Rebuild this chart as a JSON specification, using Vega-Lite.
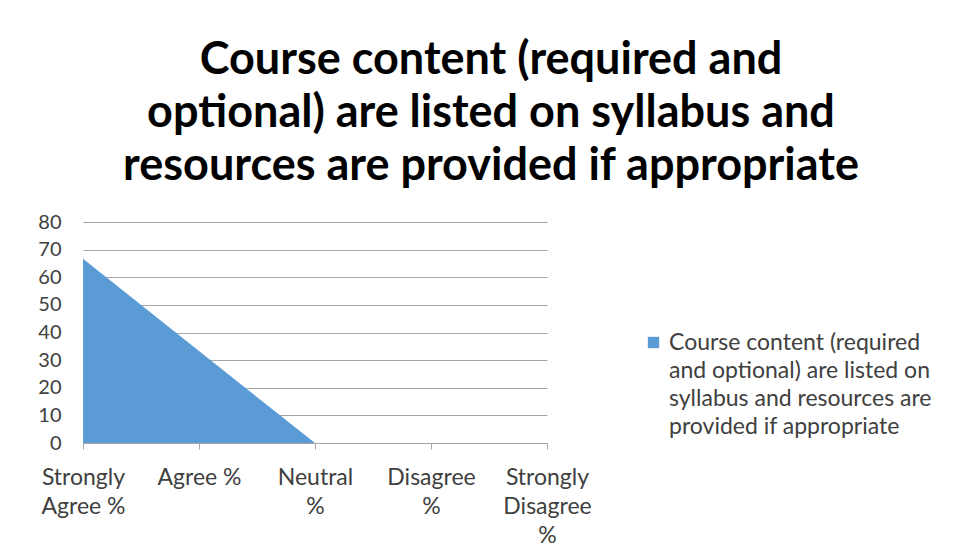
{
  "$schema": "https://vega.github.io/schema/vega-lite/v6.json",
  "width": 464,
  "height": 221,
  "autosize": {"type": "none"},
  "padding": {"left": 83, "top": 222, "right": 413, "bottom": 115},
  "background": "white",
  "title": {
    "text": ["Course content (required and", "optional) are listed on syllabus and", "resources are provided if appropriate"],
    "font": "Lato",
    "fontSize": 45,
    "fontWeight": "bold",
    "color": "#000000",
    "lineHeight": 53,
    "anchor": "middle",
    "dx": 176,
    "offset": 23
  },
  "data": {
    "values": [
      {"response": "Strongly Agree %", "value": 66.7, "series": "Course content (required and optional) are listed on syllabus and resources are provided if appropriate"},
      {"response": "Agree %", "value": 33.3, "series": "Course content (required and optional) are listed on syllabus and resources are provided if appropriate"},
      {"response": "Neutral %", "value": 0, "series": "Course content (required and optional) are listed on syllabus and resources are provided if appropriate"},
      {"response": "Disagree %", "value": 0, "series": "Course content (required and optional) are listed on syllabus and resources are provided if appropriate"},
      {"response": "Strongly Disagree %", "value": 0, "series": "Course content (required and optional) are listed on syllabus and resources are provided if appropriate"}
    ]
  },
  "mark": {"type": "area", "opacity": 1},
  "encoding": {
    "x": {
      "field": "response",
      "type": "ordinal",
      "sort": null,
      "scale": {"type": "point", "padding": 0},
      "axis": {
        "title": null,
        "labelAngle": 0,
        "labelFont": "Lato",
        "labelFontSize": 23,
        "labelColor": "#404040",
        "labelPadding": 17,
        "labelLineHeight": 29,
        "labelLimit": 0,
        "labelOverlap": false,
        "labelExpr": "datum.label == 'Strongly Agree %' ? ['Strongly', 'Agree %'] : datum.label == 'Neutral %' ? ['Neutral', '%'] : datum.label == 'Disagree %' ? ['Disagree', '%'] : datum.label == 'Strongly Disagree %' ? ['Strongly', 'Disagree', '%'] : datum.label",
        "domainColor": "#a6a6a6",
        "tickColor": "#a6a6a6",
        "tickSize": 6,
        "grid": false
      }
    },
    "y": {
      "field": "value",
      "type": "quantitative",
      "scale": {"domain": [0, 80], "nice": false},
      "axis": {
        "title": null,
        "values": [0, 10, 20, 30, 40, 50, 60, 70, 80],
        "labelOverlap": false,
        "labelFont": "Lato",
        "labelFontSize": 20,
        "labelColor": "#404040",
        "labelPadding": 22,
        "domain": false,
        "ticks": false,
        "gridColor": "#a6a6a6",
        "gridWidth": 1
      }
    },
    "color": {
      "field": "series",
      "type": "nominal",
      "scale": {"range": ["#5b9bd5"]},
      "legend": {
        "title": null,
        "orient": "none",
        "legendX": 559,
        "legendY": 109,
        "symbolType": "square",
        "symbolSize": 130,
        "labelFont": "Lato",
        "labelFontSize": 23,
        "labelColor": "#404040",
        "labelLimit": 0,
        "labelOffset": 4,
        "labelExpr": "['Course content (required', 'and optional) are listed on', 'syllabus and resources are', 'provided if appropriate']"
      }
    }
  },
  "config": {
    "view": {"stroke": null},
    "style": {"guide-label": {"lineHeight": 28}}
  }
}
